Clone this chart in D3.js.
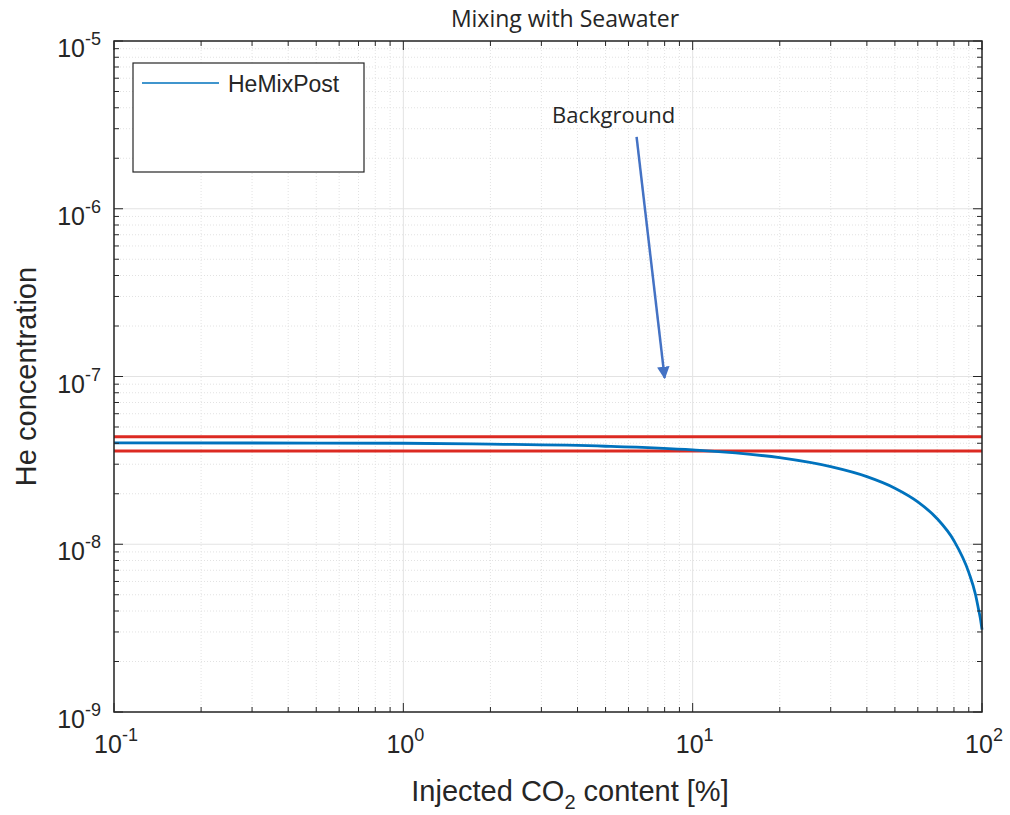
<!DOCTYPE html>
<html>
<head>
<meta charset="utf-8">
<script src="https://cdn.jsdelivr.net/npm/d3@7"></script>
<style>
  body { margin: 0; background: #fff; }
  svg text { fill: #262626; }
</style>
</head>
<body>
<div id="vis"></div>
<script>
// Data
const co2Percent = [0.1, 0.5, 1, 2, 5, 10, 20, 30, 40, 50, 60, 70, 80, 90, 95, 97, 99, 100]
const heMixPost = [4.02e-8, 4.01e-8, 4.0e-8, 3.95e-8, 3.84e-8, 3.65e-8, 3.28e-8, 2.9e-8, 2.53e-8,
                   2.16e-8, 1.79e-8, 1.42e-8, 1.05e-8, 6.8e-9, 5.0e-9, 4.2e-9, 3.5e-9, 3.1e-9]
const backgroundLevels = [4.38e-8, 3.6e-8]
const xTickExps = [-1, 0, 1, 2]
const yTickExps = [-9, -8, -7, -6, -5]
const arrowFrom = [6.4, 2.68e-6]
const arrowTo = [8.0, 9.8e-8]

const margin = {left: 114, top: 41, right: 28, bottom: 103}
const W = 1010, H = 815
const width = W - margin.left - margin.right
const height = H - margin.top - margin.bottom

const x = d3.scaleLog().domain([0.1, 100]).range([0, width])
const y = d3.scaleLog().domain([1e-9, 1e-5]).range([height, 0])

const svg = d3.select('#vis').append('svg')
    .attr('width', W).attr('height', H)

const g = svg.append('g').attr('transform', `translate(${margin.left},${margin.top})`)

// minor / major grid
const minorX = [], minorY = []
for (let e = -1; e < 2; e++) for (let m = 2; m < 10; m++) minorX.push(m * Math.pow(10, e))
for (let e = -9; e < -5; e++) for (let m = 2; m < 10; m++) minorY.push(m * Math.pow(10, e))

g.selectAll('.minx').data(minorX).enter().append('line')
    .attr('x1', d => x(d)).attr('x2', d => x(d)).attr('y1', 0).attr('y2', height)
    .attr('stroke', '#e2e2e2').attr('stroke-dasharray', '1,2')
g.selectAll('.miny').data(minorY).enter().append('line')
    .attr('y1', d => y(d)).attr('y2', d => y(d)).attr('x1', 0).attr('x2', width)
    .attr('stroke', '#e2e2e2').attr('stroke-dasharray', '1,2')
g.selectAll('.majx').data(xTickExps).enter().append('line')
    .attr('x1', d => x(Math.pow(10, d))).attr('x2', d => x(Math.pow(10, d)))
    .attr('y1', 0).attr('y2', height).attr('stroke', '#e3e3e3')
g.selectAll('.majy').data(yTickExps).enter().append('line')
    .attr('y1', d => y(Math.pow(10, d))).attr('y2', d => y(Math.pow(10, d)))
    .attr('x1', 0).attr('x2', width).attr('stroke', '#e3e3e3')

// background lines
g.selectAll('.bg').data(backgroundLevels).enter().append('line')
    .attr('x1', 0).attr('x2', width)
    .attr('y1', d => y(d)).attr('y2', d => y(d))
    .attr('stroke', '#dc2a22').attr('stroke-width', 3)

// mixing curve
const pts = co2Percent.map((c, i) => [c, heMixPost[i]])
g.append('path').datum(pts)
    .attr('fill', 'none').attr('stroke', '#0072bd').attr('stroke-width', 2.8)
    .attr('d', d3.line().x(d => x(d[0])).y(d => y(d[1])).curve(d3.curveMonotoneX))

// ticks (inside, all four sides)
function tickMarks(vals, len, scale, horiz) {
    vals.forEach(v => {
        const p = scale(v)
        if (horiz) {
            g.append('line').attr('x1', p).attr('x2', p).attr('y1', height).attr('y2', height - len).attr('stroke', '#262626')
            g.append('line').attr('x1', p).attr('x2', p).attr('y1', 0).attr('y2', len).attr('stroke', '#262626')
        } else {
            g.append('line').attr('y1', p).attr('y2', p).attr('x1', 0).attr('x2', len).attr('stroke', '#262626')
            g.append('line').attr('y1', p).attr('y2', p).attr('x1', width).attr('x2', width - len).attr('stroke', '#262626')
        }
    })
}
tickMarks(minorX, 5, x, true)
tickMarks(xTickExps.map(e => Math.pow(10, e)), 9, x, true)
tickMarks(minorY, 5, y, false)
tickMarks(yTickExps.map(e => Math.pow(10, e)), 9, y, false)

// box
g.append('rect').attr('width', width).attr('height', height)
    .attr('fill', 'none').attr('stroke', '#262626').attr('stroke-width', 1.5)

// tick labels
const lblFont = "'Liberation Sans', Arial, sans-serif"
function powLabel(sel, e) {
    sel.append('tspan').text('10')
    sel.append('tspan').attr('dy', -12).attr('font-size', 18).text(e)
}
g.selectAll('.xl').data(xTickExps).enter().append('text')
    .attr('x', d => x(Math.pow(10, d)) + 2)
    .attr('y', height + 41)
    .attr('text-anchor', 'middle')
    .attr('font-family', lblFont).attr('font-size', 25)
    .each(function(d) { powLabel(d3.select(this), d) })
g.selectAll('.yl').data(yTickExps).enter().append('text')
    .attr('x', -13)
    .attr('y', d => y(Math.pow(10, d)) + 16)
    .attr('text-anchor', 'end')
    .attr('font-family', lblFont).attr('font-size', 25)
    .each(function(d) { powLabel(d3.select(this), d) })

// axis titles
const xt = svg.append('text')
    .attr('x', margin.left + width / 2 + 22).attr('y', 801)
    .attr('text-anchor', 'middle')
    .attr('font-family', lblFont).attr('font-size', 29)
xt.append('tspan').text('Injected CO')
xt.append('tspan').attr('dy', 8).attr('font-size', 20).text('2')
xt.append('tspan').attr('dy', -8).text(' content [%]')

svg.append('text')
    .attr('transform', `translate(36,${margin.top + height / 2}) rotate(-90)`)
    .attr('text-anchor', 'middle')
    .attr('font-family', lblFont).attr('font-size', 29)
    .text('He concentration')

// title
svg.append('text')
    .attr('x', 565).attr('y', 27)
    .attr('text-anchor', 'middle')
    .attr('font-family', "'Open Sans', sans-serif").attr('font-size', 23)
    .attr('fill', '#000')
    .text('Mixing with Seawater')

// legend
const lg = g.append('g').attr('transform', 'translate(19,22)')
lg.append('rect').attr('width', 231).attr('height', 109)
    .attr('fill', '#fff').attr('stroke', '#262626').attr('stroke-width', 1.2)
lg.append('line').attr('x1', 9).attr('x2', 86).attr('y1', 20).attr('y2', 20)
    .attr('stroke', '#0072bd').attr('stroke-width', 1.5)
lg.append('text').attr('x', 95).attr('y', 29)
    .attr('font-family', lblFont).attr('font-size', 23)
    .text('HeMixPost')

// annotation
svg.append('defs').append('marker')
    .attr('id', 'ah').attr('viewBox', '0 0 10 10').attr('refX', 9).attr('refY', 5)
    .attr('markerWidth', 5).attr('markerHeight', 5).attr('orient', 'auto')
    .append('path').attr('d', 'M0,0 L10,5 L0,10 z').attr('fill', '#4472c4')
g.append('line')
    .attr('x1', x(arrowFrom[0])).attr('y1', y(arrowFrom[1]))
    .attr('x2', x(arrowTo[0])).attr('y2', y(arrowTo[1]))
    .attr('stroke', '#4472c4').attr('stroke-width', 2.5)
    .attr('marker-end', 'url(#ah)')
g.append('text')
    .attr('x', x(arrowFrom[0]) - 23).attr('y', y(arrowFrom[1]) - 14)
    .attr('text-anchor', 'middle')
    .attr('font-family', "'Open Sans', sans-serif").attr('font-size', 22)
    .attr('fill', '#000')
    .text('Background')
</script>
</body>
</html>
